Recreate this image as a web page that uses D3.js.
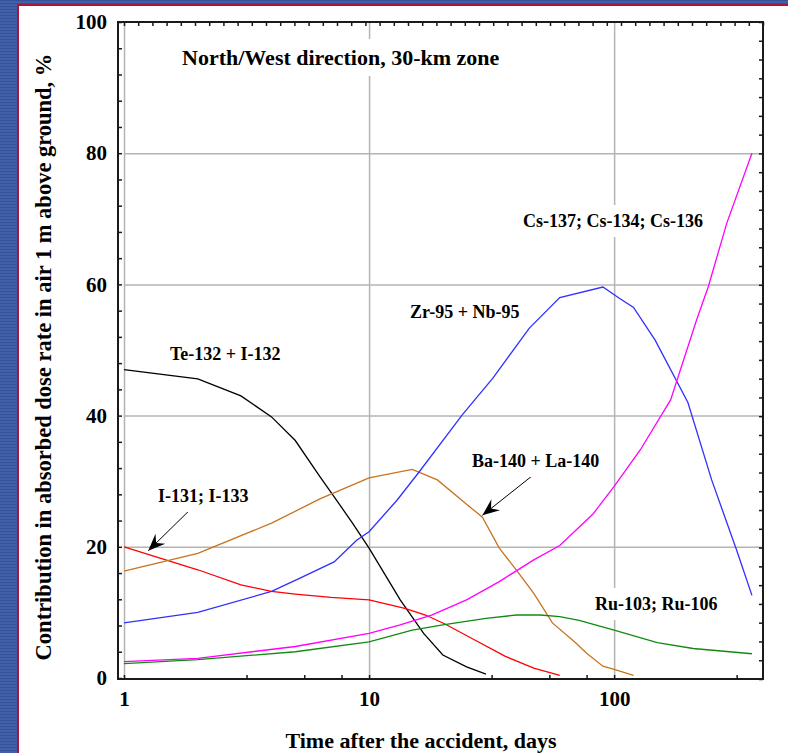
<!DOCTYPE html>
<html>
<head>
<meta charset="utf-8">
<script src="https://cdn.jsdelivr.net/npm/d3@7"></script>
<style>
  body { margin: 0; background: #3f5ea6; }
  svg { display: block; }
  text { font-family: "Liberation Serif", "Times New Roman", serif; font-weight: bold; fill: #000; }
  .grid line { stroke: #b4b4b4; stroke-width: 1.5; }
  .grid path, .ticks path, .ticks text, .labels path { display: none; }
  .ticks line { stroke: #1a1a1a; stroke-width: 1.5; }
  .labels text { font-size: 21px; }
  .series { fill: none; stroke-width: 1.3; }
  .note { font-size: 18px; }
</style>
</head>
<body>
<svg></svg>
<script>
// [day, % of dose rate]
var teI132 = [[1,47],[2,45.6],[3,43],[4,39.8],[5,36.2],[6.3,30.7],[7.4,27],[8.6,23.5],[10,19.8],[13.4,11.9],[16.7,6.8],[20,3.5],[25,1.7],[30,0.6]];
var i131 = [[1,20],[2,16.5],[3,14.2],[4,13.2],[5,12.8],[7,12.3],[10,11.9],[14,10.6],[17,9.6],[20.5,8.2],[27,5.8],[36,3.3],[47,1.5],[60,0.4]];
var ba140 = [[1,16.3],[2,19],[4,23.6],[6.3,27.3],[10,30.5],[15,31.8],[19,30.2],[25,26.5],[29,24.5],[34,19.8],[40,16.4],[47,12.9],[56,8.4],[70,5.3],[77,3.8],[90,1.8],[100,1.3],[120,0.4]];
var zr95 = [[1,8.4],[2,10],[4,13.2],[5.2,15.2],[7.2,17.7],[8.9,21],[10,22.3],[13,27.1],[16,31.4],[24,40.1],[32,45.7],[45,53.3],[60,58],[90,59.6],[105,57.9],[120,56.5],[147,51.5],[200,42],[250,30.2],[316,19.5],[365,12.6]];
var cs137 = [[1,2.5],[2,3],[5,4.8],[10,6.8],[13.4,8.1],[18,9.6],[25,11.9],[34,14.7],[47,18],[60,20.2],[82,25],[100,29.2],[128,34.8],[170,42.4],[218,54.8],[242,59.6],[288,69.3],[365,80]];
var ru103 = [[1,2.2],[2,2.8],[5,4],[10,5.5],[15,7.3],[20,8.1],[30,9.1],[40,9.6],[50,9.6],[60,9.35],[72,8.8],[100,7.3],[150,5.4],[210,4.5],[365,3.7]];

var seriesNames = ["Te-132 + I-132", "I-131; I-133", "Ba-140 + La-140", "Zr-95 + Nb-95", "Cs-137; Cs-134; Cs-136", "Ru-103; Ru-106"];
var dayLabels = [1, 10, 100];
var pctLabels = [0, 20, 40, 60, 80, 100];
var dayMinorTicks = [1, 3.162, 5.44, 7.72, 10, 31.62, 54.4, 77.2, 100, 316.2];
var title = "North/West direction, 30-km zone";
var xTitle = "Time after the accident, days";
var yTitle = "Contribution in absorbed dose rate in air 1 m above ground, %";

var W = 788, H = 753;
var plot = {left: 124, right: 763, top: 22, bottom: 678};
var axisX = 118, axisY = 679;

var svg = d3.select("svg").attr("width", W).attr("height", H);

var x = d3.scaleLog().domain([1, 405]).range([plot.left, plot.right]);
var y = d3.scaleLinear().domain([0, 100]).range([plot.bottom, plot.top]);

// background
var defs = svg.append("defs");
var pat = defs.append("pattern").attr("id", "stripes")
	.attr("width", 4).attr("height", 3).attr("patternUnits", "userSpaceOnUse");
pat.append("rect").attr("width", 4).attr("height", 3).attr("fill", "#4061a8");
pat.append("rect").attr("width", 4).attr("height", 1).attr("fill", "#34529a");
svg.append("rect").attr("width", W).attr("height", H).attr("fill", "url(#stripes)");
svg.append("rect").attr("x", 18).attr("y", 5).attr("width", W).attr("height", H)
	.attr("fill", "#fff").attr("stroke", "#b0123e").attr("stroke-width", 2);

defs.append("marker").attr("id", "head")
	.attr("viewBox", "-18 -8 19 16").attr("markerWidth", 19).attr("markerHeight", 16)
	.attr("markerUnits", "userSpaceOnUse").attr("refX", 0).attr("refY", 0).attr("orient", "auto")
	.append("path").attr("d", "M0,0 L-17,-7 L-11,0 L-17,7 Z").attr("fill", "#000");

// grid
svg.append("g").attr("class", "grid").attr("transform", "translate(0," + plot.bottom + ")")
	.call(d3.axisBottom(x).tickValues(dayLabels).tickSize(-(plot.bottom - plot.top)).tickFormat(""));
svg.append("g").attr("class", "grid").attr("transform", "translate(" + plot.left + ",0)")
	.call(d3.axisLeft(y).tickValues([20, 40, 60, 80]).tickSize(-(plot.right - plot.left)).tickFormat(""));

// frame + ticks
svg.append("rect").attr("x", axisX).attr("y", plot.top)
	.attr("width", plot.right - axisX).attr("height", axisY - plot.top)
	.attr("fill", "none").attr("stroke", "#1a1a1a").attr("stroke-width", 2);

svg.append("g").attr("class", "ticks").attr("transform", "translate(" + axisX + ",0)")
	.call(d3.axisRight(y).tickValues(d3.range(0, 101, 4)).tickSize(4));
svg.append("g").attr("class", "ticks").attr("transform", "translate(0," + axisY + ")")
	.call(d3.axisTop(x).tickValues(dayMinorTicks).tickSize(4));
var topScale = d3.scaleLinear().domain([0, 45]).range([plot.left, plot.right]);
svg.append("g").attr("class", "ticks").attr("transform", "translate(0," + plot.top + ")")
	.call(d3.axisBottom(topScale).tickValues(d3.range(0, 46)).tickSize(4));
var rightScale = d3.scaleLinear().domain([0, 35]).range([axisY, plot.top]);
svg.append("g").attr("class", "ticks").attr("transform", "translate(" + plot.right + ",0)")
	.call(d3.axisLeft(rightScale).tickValues(d3.range(0, 36)).tickSize(4));

// tick labels
svg.append("g").attr("class", "labels").attr("transform", "translate(" + axisX + ",0)")
	.call(d3.axisLeft(y).tickValues(pctLabels).tickSize(0).tickPadding(11))
	.selectAll("text").attr("font-family", null).attr("font-size", null);
svg.append("g").attr("class", "labels").attr("transform", "translate(0," + axisY + ")")
	.call(d3.axisBottom(x).tickValues(dayLabels).tickFormat(d3.format("d")).tickSize(0).tickPadding(12))
	.selectAll("text").attr("font-family", null).attr("font-size", null);

// axis titles
svg.append("text").attr("x", 421).attr("y", 748).attr("text-anchor", "middle")
	.attr("font-size", 22).text(xTitle);
svg.append("text").attr("transform", "translate(51,357) rotate(-90)").attr("text-anchor", "middle")
	.attr("font-size", 22.5).text(yTitle);

// annotations: white boxes behind text cut the grid
var notes = [
	{t: title, x: 182, y: 65, size: 22},
	{t: seriesNames[0], x: 170, y: 360},
	{t: seriesNames[1], x: 158, y: 502},
	{t: seriesNames[2], x: 472, y: 467},
	{t: seriesNames[3], x: 410, y: 318},
	{t: seriesNames[4], x: 523, y: 227},
	{t: seriesNames[5], x: 595, y: 610}
];
var noteG = svg.append("g");
var noteText = noteG.selectAll("text").data(notes).enter().append("text")
	.attr("class", "note")
	.attr("x", d => d.x).attr("y", d => d.y)
	.style("font-size", d => (d.size || 18) + "px")
	.text(d => d.t);
noteText.each(function () {
	var b = this.getBBox();
	noteG.insert("rect", "text").attr("x", b.x - 3).attr("y", b.y - 6)
		.attr("width", b.width + 6).attr("height", b.height + 12).attr("fill", "#fff");
});

// series
var line = d3.line().x(d => x(d[0])).y(d => y(d[1]));
var series = [
	{data: teI132, color: "#000000"},
	{data: i131, color: "#ff0000"},
	{data: ba140, color: "#c8731e"},
	{data: zr95, color: "#3030ff"},
	{data: cs137, color: "#ff00ff"},
	{data: ru103, color: "#128a12"}
];
svg.append("g").selectAll("path").data(series).enter().append("path")
	.attr("class", "series")
	.attr("stroke", d => d.color)
	.attr("d", d => line(d.data));

// arrows
var arrows = [
	{from: [1.89, 25.9], to: [1.256, 19.4]},
	{from: [46.6, 30.9], to: [29.0, 24.8]}
];
svg.append("g").selectAll("line").data(arrows).enter().append("line")
	.attr("x1", d => x(d.from[0])).attr("y1", d => y(d.from[1]))
	.attr("x2", d => x(d.to[0])).attr("y2", d => y(d.to[1]))
	.attr("stroke", "#000").attr("stroke-width", 1)
	.attr("marker-end", "url(#head)");

noteG.raise();
</script>
</body>
</html>
